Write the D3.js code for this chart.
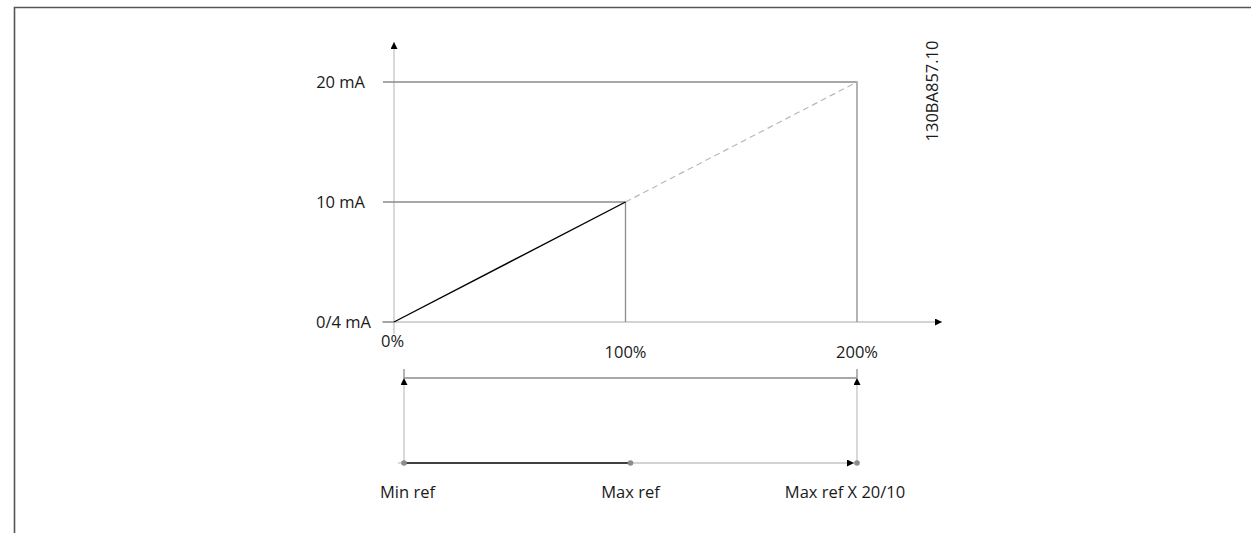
<!DOCTYPE html>
<html>
<head>
<meta charset="utf-8">
<script src="https://cdn.jsdelivr.net/npm/d3@7"></script>
<style>
  body { margin: 0; background: #fff; }
  text { font-family: "Open Sans", "Noto Sans", sans-serif; font-size: 16.5px; fill: #1a1a1a; }
</style>
</head>
<body>
<div id="chart"></div>
<script>
// chart data
var percentTicks = [0, 100, 200];
var percentLabels = ["0%", "100%", "200%"];
var mAValues = [0, 10, 20];
var mALabels = ["0/4 mA", "10 mA", "20 mA"];
// reference: output at x percent
var activeLine = [{x: 0, y: 0}, {x: 100, y: 10}];
var extendedLine = [{x: 100, y: 10}, {x: 200, y: 20}];
// lower reference scale
var refValues = [0, 1, 2];
var refLabels = ["Min ref", "Max ref", "Max ref X 20/10"];
var drawingId = "130BA857.10";

var width = 1251, height = 533;

var svg = d3.select("#chart").append("svg")
    .attr("width", width)
    .attr("height", height);

var defs = svg.append("defs");
defs.append("marker")
    .attr("id", "arrow")
    .attr("viewBox", "0 0 10 10")
    .attr("refX", 10).attr("refY", 5)
    .attr("markerWidth", 9).attr("markerHeight", 7)
    .attr("markerUnits", "userSpaceOnUse")
    .attr("orient", "auto")
  .append("path")
    .attr("d", "M0,0L10,5L0,10z")
    .attr("fill", "#000");

// frame
svg.append("path")
    .attr("d", "M14.5," + height + "V7.5H" + width)
    .attr("fill", "none")
    .attr("stroke", "#555")
    .attr("stroke-width", 1.6);

// scales
var x = d3.scaleLinear().domain([0, 200]).range([394, 857]);
var y = d3.scaleLinear().domain([0, 20]).range([322, 82]);
var r = d3.scaleLinear().domain([0, 2]).range([404, 857]);

var g = svg.append("g");

// axes
g.append("line")
    .attr("x1", x(0)).attr("y1", y(0) + 12)
    .attr("x2", x(0)).attr("y2", 42)
    .attr("stroke", "#c4c4c4").attr("stroke-width", 1.3)
    .attr("marker-end", "url(#arrow)");
g.append("line")
    .attr("x1", x(0) - 12).attr("y1", y(0))
    .attr("x2", 942).attr("y2", y(0))
    .attr("stroke", "#c4c4c4").attr("stroke-width", 1.3)
    .attr("marker-end", "url(#arrow)");

// guide lines for 10 mA / 20 mA
mAValues.slice(1).forEach(function(v, i) {
  var xv = percentTicks[i + 1];
  g.append("path")
      .attr("d", "M" + (x(0) - 11) + "," + y(v) + "H" + x(xv) + "V" + y(0))
      .attr("fill", "none")
      .attr("stroke", "#8c8c8c")
      .attr("stroke-width", 1.3);
});
g.append("line")
    .attr("x1", x(0) - 11).attr("x2", x(0))
    .attr("y1", y(0)).attr("y2", y(0))
    .attr("stroke", "#8c8c8c").attr("stroke-width", 1.3);

var line = d3.line()
    .x(function(d) { return x(d.x); })
    .y(function(d) { return y(d.y); });

g.append("path")
    .datum(extendedLine)
    .attr("d", line)
    .attr("fill", "none")
    .attr("stroke", "#b8b8b8")
    .attr("stroke-width", 1.2)
    .attr("stroke-dasharray", "6,4");

g.append("path")
    .datum(activeLine)
    .attr("d", line)
    .attr("fill", "none")
    .attr("stroke", "#000")
    .attr("stroke-width", 1.4);

// y labels
g.selectAll(".ylab")
    .data(mAValues)
  .enter().append("text")
    .attr("class", "ylab")
    .attr("x", function(d, i) { return i === 0 ? 371 : 365; })
    .attr("y", function(d) { return y(d); })
    .attr("dy", "0.35em")
    .attr("text-anchor", "end")
    .text(function(d, i) { return mALabels[i]; });

// x labels
g.selectAll(".xlab")
    .data(percentTicks)
  .enter().append("text")
    .attr("class", "xlab")
    .attr("x", function(d, i) { return i === 0 ? x(d) - 13 : x(d); })
    .attr("y", function(d, i) { return i === 0 ? 347 : 358; })
    .attr("text-anchor", function(d, i) { return i === 0 ? "start" : "middle"; })
    .text(function(d, i) { return percentLabels[i]; });

// drawing id
svg.append("text")
    .attr("transform", "translate(938,91) rotate(-90)")
    .attr("text-anchor", "middle")
    .text(drawingId);

// lower reference scale
var topY = 378, baseY = 463;
var lg = svg.append("g");

lg.append("line")
    .attr("x1", r(0)).attr("x2", r(2))
    .attr("y1", topY).attr("y2", topY)
    .attr("stroke", "#8c8c8c").attr("stroke-width", 1.3);

[0, 2].forEach(function(v) {
  lg.append("line")
      .attr("x1", r(v)).attr("x2", r(v))
      .attr("y1", baseY).attr("y2", topY)
      .attr("stroke", "#c4c4c4").attr("stroke-width", 1.3)
      .attr("marker-end", "url(#arrow)");
  lg.append("line")
      .attr("x1", r(v)).attr("x2", r(v))
      .attr("y1", topY).attr("y2", topY - 9)
      .attr("stroke", "#8c8c8c").attr("stroke-width", 1.3);
});

lg.append("line")
    .attr("x1", r(0) - 6).attr("x2", r(0))
    .attr("y1", baseY).attr("y2", baseY)
    .attr("stroke", "#c4c4c4").attr("stroke-width", 1.3);
lg.append("line")
    .attr("x1", r(1)).attr("x2", r(2) - 3)
    .attr("y1", baseY).attr("y2", baseY)
    .attr("stroke", "#c4c4c4").attr("stroke-width", 1.3)
    .attr("marker-end", "url(#arrow)");
lg.append("line")
    .attr("x1", r(0)).attr("x2", r(1))
    .attr("y1", baseY).attr("y2", baseY)
    .attr("stroke", "#000").attr("stroke-width", 1.5);

lg.selectAll("circle")
    .data(refValues)
  .enter().append("circle")
    .attr("cx", function(d) { return r(d); })
    .attr("cy", baseY)
    .attr("r", 2.8)
    .attr("fill", "#8c8c8c");

// label offsets as placed in the drawing
var refLabelShift = [-24, 0, -12];
lg.selectAll(".rlab")
    .data(refValues)
  .enter().append("text")
    .attr("class", "rlab")
    .attr("x", function(d, i) { return r(d) + refLabelShift[i]; })
    .attr("y", 498)
    .attr("text-anchor", function(d, i) { return i === 0 ? "start" : "middle"; })
    .text(function(d, i) { return refLabels[i]; });
</script>
</body>
</html>
